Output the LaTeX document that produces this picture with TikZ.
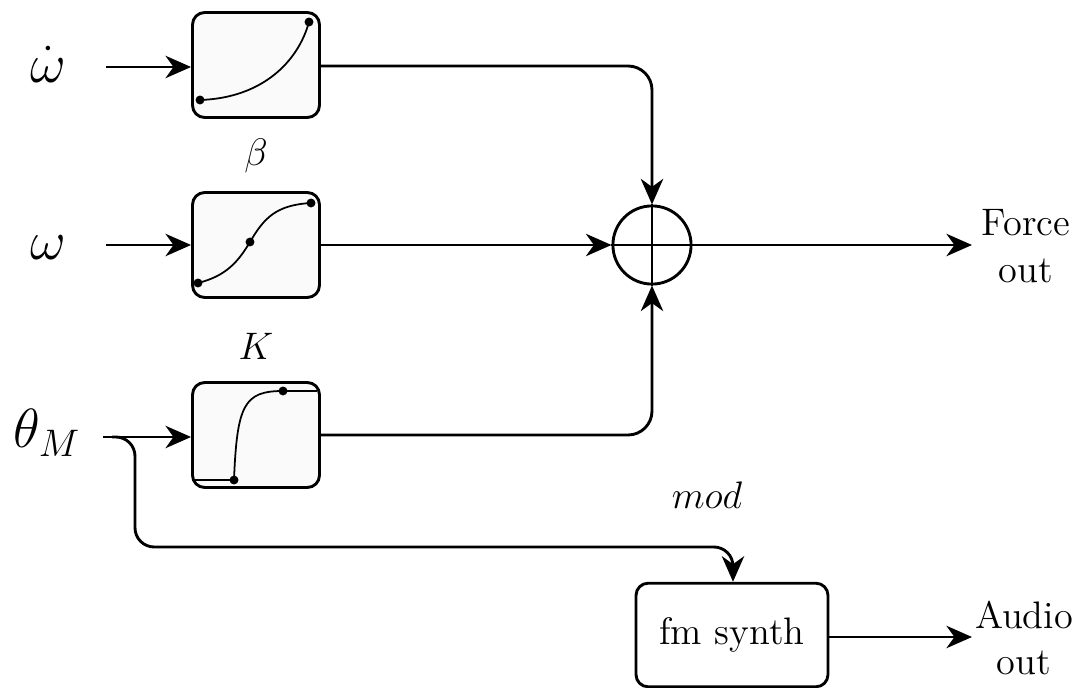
\documentclass[tikz,border=0pt]{standalone}
\usetikzlibrary{arrows.meta}
\begin{document}
\begin{tikzpicture}[x=0.011cm,y=-0.011cm,
  blk/.style={draw,line width=0.9pt,rounded corners=3.8pt,fill=gray!4,minimum width=1.397cm,minimum height=1.155cm,inner sep=0pt},
  fmblk/.style={draw,line width=0.9pt,rounded corners=3.8pt,fill=white,minimum width=2.112cm,minimum height=1.14cm,inner sep=0pt,font=\fontsize{12}{14}\selectfont},
  sumc/.style={draw,circle,line width=0.9pt,minimum size=0.86cm,inner sep=0pt},
  conn/.style={line width=0.9pt,-{Stealth[length=8pt,width=7pt,inset=2.5pt]}},
  wire/.style={line width=0.9pt},
  crv/.style={line width=0.55pt},
  dotc/.style={circle,fill=black,inner sep=0pt,minimum size=2.8pt},
  txt/.style={font=\fontsize{12}{14.5}\selectfont,align=center,inner sep=0pt},
  bigm/.style={font=\fontsize{17.28}{20}\selectfont,inner sep=0pt}
]
\useasboundingbox (0,0) rectangle (1087,688);

% inputs
\node[bigm] (in1) at (48,64) {$\dot\omega$};
\node[bigm] (in2) at (48,248) {$\omega$};
\node[bigm,anchor=base west] (in3) at (13,448) {$\theta_M$};
\coordinate (s1) at (106,67);
\coordinate (s2) at (106,245);
\coordinate (s3) at (103,437);

% blocks
\node[blk] (box1) at (256,65) {};
\node[blk] (box2) at (256,245) {};
\node[blk] (box3) at (256,435) {};

% labels
\node[txt] (lbeta) at (256,156) {$\beta$};
\node[txt] (lK) at (256,346) {$K$};
\node[txt] (lmod) at (707,495) {$mod$};

% curves
\draw[crv] (200,100) .. controls (262,98) and (298,62) .. (309,22);
\node[dotc] (d11) at (200,100) {};
\node[dotc] (d12) at (309,22) {};

\draw[crv] (198,283) .. controls (226,276) and (238,262) .. (250,242)
  .. controls (264,218) and (276,205) .. (311,203);
\node[dotc] (d21) at (198,283) {};
\node[dotc] (d22) at (250,242) {};
\node[dotc] (d23) at (311,203) {};

\draw[crv] (195,480) -- (234,480) .. controls (237,405) and (244,391) .. (283,391) -- (317,391);
\node[dotc] (d31) at (234,480) {};
\node[dotc] (d32) at (283,391) {};

% sum
\node[sumc] (sum) at (652,245) {};
\draw[wire] (sum.north) -- (sum.south);
\draw[wire] (sum.west) -- (sum.east);

% outputs
\node[txt] (force) at (1026,246) {Force\\out};
\node[fmblk] (fm) at (732,635) {fm synth};
\node[txt] (audio) at (1024,638) {Audio\\out};

% connectors
\draw[conn] (s1) -- (s1 -| box1.west);
\draw[conn] (s2) -- (box2.west);
\draw[conn] (s3) -- (s3 -| box3.west);

\draw[conn,rounded corners=7.5pt] (box1.east |- 0,66) -- (652,66) -- (sum.north);
\draw[conn] (box2.east) -- (sum.west);
\draw[conn,rounded corners=7.5pt] (box3.east |- 0,435) -- (652,435) -- (sum.south);
\draw[conn] (sum.east) -- (972,245);

\coordinate (br) at (112,437);
\draw[conn,rounded corners=6pt] (br) -- (135,437) -- (135,547) -- (733,547) -- (fm.north -| 733,0);
\draw[conn] (fm.east |- 0,637) -- (972,637);
\end{tikzpicture}
\end{document}
